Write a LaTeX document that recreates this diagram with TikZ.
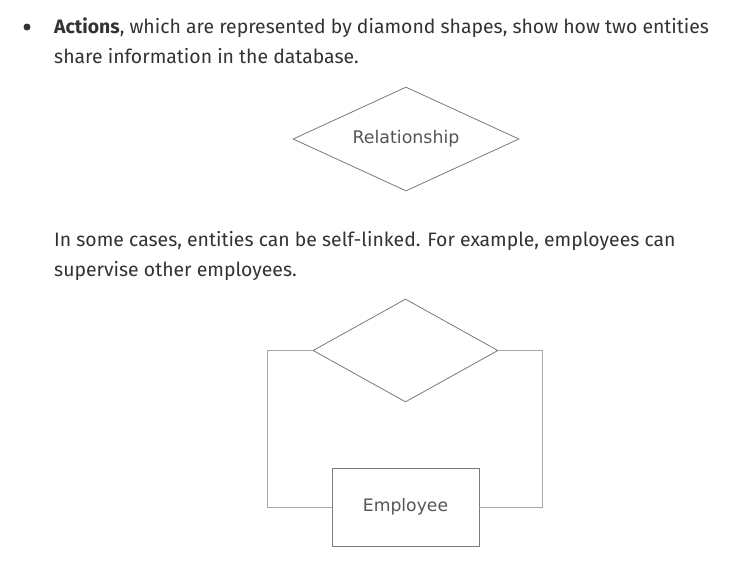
\documentclass[tikz,border=0pt]{standalone}
\usepackage{fontspec}
\setmainfont{Fira Sans}
\newfontfamily\diagfont{DejaVu Sans}
\usetikzlibrary{shapes.geometric}

\definecolor{bodytext}{HTML}{333333}
\definecolor{shapeline}{HTML}{7A7A7A}
\definecolor{linkline}{HTML}{A8A8A8}
\definecolor{shapetext}{HTML}{555555}

\begin{document}
\begin{tikzpicture}[x=1pt,y=-1pt,
  para/.style={anchor=base west,align=left,inner sep=0pt,text=bodytext,
    font=\fontsize{19.4}{30}\selectfont},
  rel/.style={diamond,aspect=2.2,draw=shapeline,line width=0.8pt,inner sep=0pt,
    text=shapetext,font=\diagfont\fontsize{17.4}{20}\selectfont},
  entity/.style={rectangle,draw=shapeline,line width=0.8pt,
    minimum width=147pt,minimum height=78pt,inner sep=0pt,
    text=shapetext,font=\diagfont\fontsize{17.2}{20}\selectfont},
  link/.style={draw=linkline,line width=0.8pt}]
  \useasboundingbox (0,0) rectangle (749,576);

  \node[circle,fill=bodytext,inner sep=0pt,minimum size=7pt] (dot) at (27,27) {};
  % the last line of each paragraph sits on the given baseline
  \node[para]  (intro) at (54,63.5)  {\textbf{Actions}, which are represented by diamond shapes, show how two entities\\share information in the database.};
  \node[rel,minimum width=226pt,minimum height=104pt] (relation) at (406,139) {Relationship};

  \node[para]  (selftext) at (54,276) {In some cases, entities can be self-linked. For example, employees can\\supervise other employees.};
  \node[rel,minimum width=185pt,minimum height=103pt] (supervise) at (405.5,350.5) {};
  \node[entity] (employee) at (405.5,507) {Employee};

  \path[link] (supervise.west) -- ++(-45,0) |- (employee.west);
  \path[link] (supervise.east) -- ++(44,0) |- (employee.east);
\end{tikzpicture}
\end{document}
